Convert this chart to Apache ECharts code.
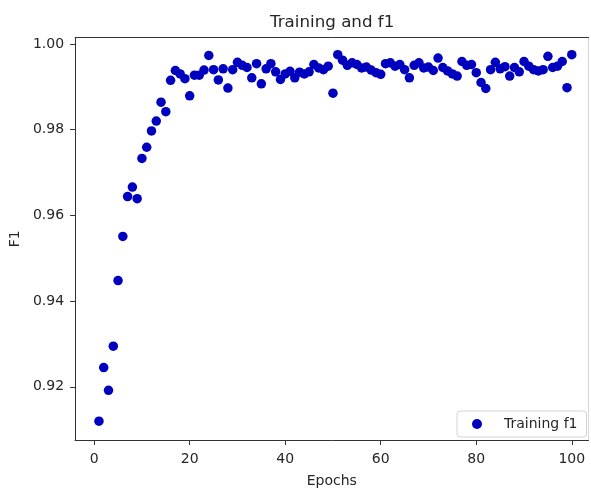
<!DOCTYPE html>
<html>
<head>
<meta charset="utf-8">
<script src="https://cdn.jsdelivr.net/npm/echarts@6/dist/echarts.min.js"></script>
<style>
html,body{margin:0;padding:0;background:#fff;}
#chart{width:591px;height:493px;}
</style>
</head>
<body>
<div id="chart"></div>
<script>
const titleText = 'Training and f1';
const xLabel = 'Epochs';
const yLabel = 'F1';
const seriesName = 'Training f1';
const epochs = [];
for (let i = 1; i <= 100; i++) epochs.push(i);
const f1 = [
  0.9120, 0.9245, 0.9192, 0.9295, 0.9448, 0.9551, 0.9644, 0.9666, 0.9639, 0.9733,
  0.9759, 0.9797, 0.9820, 0.9864, 0.9842, 0.9915, 0.9938, 0.9930, 0.9919, 0.9879,
  0.9927, 0.9927, 0.9939, 0.9973, 0.9940, 0.9916, 0.9942, 0.9897, 0.9940, 0.9957,
  0.9950, 0.9945, 0.9921, 0.9954, 0.9907, 0.9942, 0.9954, 0.9935, 0.9917, 0.9930,
  0.9936, 0.9921, 0.9934, 0.9930, 0.9935, 0.9952, 0.9944, 0.9940, 0.9948, 0.9885,
  0.9975, 0.9962, 0.9950, 0.9956, 0.9952, 0.9944, 0.9946, 0.9939, 0.9933, 0.9929,
  0.9954, 0.9956, 0.9948, 0.9952, 0.9940, 0.9921, 0.9950, 0.9956, 0.9944, 0.9946,
  0.9938, 0.9967, 0.9945, 0.9937, 0.9930, 0.9925, 0.9959, 0.9950, 0.9952, 0.9933,
  0.9910, 0.9896, 0.9940, 0.9957, 0.9942, 0.9947, 0.9925, 0.9945, 0.9935, 0.9959,
  0.9948, 0.9940, 0.9937, 0.9940, 0.9971, 0.9945, 0.9948, 0.9959, 0.9898, 0.9975
];
const xTicks = [0, 20, 40, 60, 80, 100];
const yTicks = [0.92, 0.94, 0.96, 0.98, 1.00];

const font = 'DejaVu Sans';
const ink = '#262626';
const spine = '#333';
const data = epochs.map((e, i) => [e, f1[i]]);

const chart = echarts.init(document.getElementById('chart'), null, {renderer: 'canvas'});
chart.setOption({
  animation: false,
  backgroundColor: '#fff',
  title: {
    text: titleText,
    left: 270, top: 14, padding: 0,
    textStyle: {fontFamily: font, fontSize: 16.7, fontWeight: 'normal', color: ink}
  },
  legend: {
    data: [seriesName],
    left: 457, top: 411,
    padding: [6, 9, 6, 15],
    backgroundColor: '#fff',
    borderColor: '#d4d4d4', borderWidth: 1, borderRadius: 3,
    itemWidth: 10, itemHeight: 10,
    icon: 'circle',
    textStyle: {fontFamily: font, fontSize: 14, color: ink, padding: [0, 0, 0, 17]}
  },
  grid: {left: 71.5, right: 2.5, top: 37.5, bottom: 46},
  xAxis: [{
    type: 'value', min: -4, max: 103.5,
    name: xLabel, nameLocation: 'middle', nameGap: 34,
    nameTextStyle: {fontFamily: font, fontSize: 14, color: ink},
    axisLine: {show: true, onZero: false, lineStyle: {color: spine, width: 1}},
    axisTick: {show: true, length: 5, customValues: xTicks, lineStyle: {color: spine}},
    axisLabel: {customValues: xTicks, margin: 12, fontFamily: font, fontSize: 14, color: ink},
    splitLine: {show: false}
  }, {
    type: 'value', position: 'top', min: -4, max: 103.5,
    axisLine: {show: true, onZero: false, lineStyle: {color: spine, width: 1}},
    axisTick: {show: false}, axisLabel: {show: false}, splitLine: {show: false}
  }],
  yAxis: [{
    type: 'value', min: 0.9076, max: 1.0015,
    name: yLabel, nameLocation: 'middle', nameGap: 46,
    nameTextStyle: {fontFamily: font, fontSize: 14, color: ink},
    axisLine: {show: true, onZero: false, lineStyle: {color: spine, width: 1}},
    axisTick: {show: true, length: 5, customValues: yTicks, lineStyle: {color: spine}},
    axisLabel: {customValues: yTicks, margin: 11, fontFamily: font, fontSize: 14, color: ink,
      formatter: v => Number(v).toFixed(2)},
    splitLine: {show: false}
  }, {
    type: 'value', position: 'right', min: 0.9076, max: 1.0015,
    axisLine: {show: true, onZero: false, lineStyle: {color: '#d8d8d8', width: 1}},
    axisTick: {show: false}, axisLabel: {show: false}, splitLine: {show: false}
  }],
  series: [{
    name: seriesName,
    type: 'scatter',
    xAxisIndex: 0, yAxisIndex: 0,
    symbol: 'circle', symbolSize: 9.5,
    itemStyle: {color: '#0000bf', opacity: 1},
    data: data
  }]
});
</script>
</body>
</html>
